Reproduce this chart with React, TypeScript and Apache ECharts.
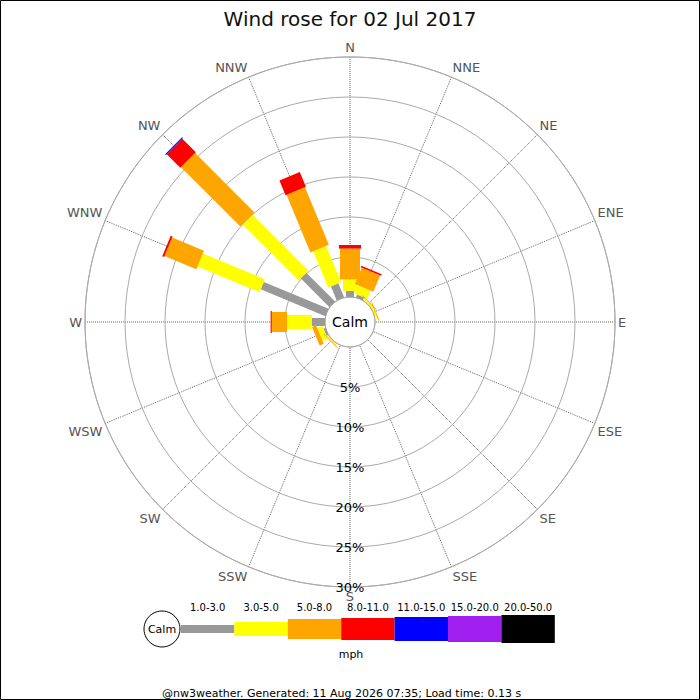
import React, { useEffect, useRef } from "react";
import * as echarts from "echarts";

const TITLE = "Wind rose for 02 Jul 2017";
const FOOTER = "@nw3weather. Generated: 11 Aug 2026 07:35; Load time: 0.13 s";
const DIRECTIONS = ["N", "NNE", "NE", "ENE", "E", "ESE", "SE", "SSE", "S", "SSW", "SW", "WSW", "W", "WNW", "NW", "NNW"];
const SPEED_BINS = ["1.0-3.0", "3.0-5.0", "5.0-8.0", "8.0-11.0", "11.0-15.0", "15.0-20.0", "20.0-50.0"];
const UNIT = "mph";
const RADIUS_MAX = 30;
const RADIUS_STEP = 5;

// percent of observations per direction (N..NNW) for each speed bin
const BIN_1_3 = [0.75, 0.4, 0.05, 0.05, 0, 0, 0, 0, 0, 0, 0.05, 0.25, 1.65, 8.75, 5.1, 1.9];
const BIN_3_5 = [1.45, 1.1, 0.2, 0.2, 0, 0, 0, 0, 0, 0, 0.15, 0.7, 3.1, 8.4, 9.9, 4.9];
const BIN_5_8 = [3.85, 2.2, 0.1, 0.1, 0, 0, 0, 0, 0, 0, 0.1, 0.55, 1.9, 4.3, 10.5, 7.8];
const BIN_8_11 = [0.45, 0.2, 0, 0, 0, 0, 0, 0, 0, 0, 0, 0, 0.15, 0.25, 2.4, 2.0];
const BIN_11_15 = [0, 0, 0, 0, 0, 0, 0, 0, 0, 0, 0, 0, 0, 0, 0.15, 0];
const BIN_15_20 = [0, 0, 0, 0, 0, 0, 0, 0, 0, 0, 0, 0, 0, 0, 0, 0];
const BIN_20_50 = [0, 0, 0, 0, 0, 0, 0, 0, 0, 0, 0, 0, 0, 0, 0, 0];
const BINS = [BIN_1_3, BIN_3_5, BIN_5_8, BIN_8_11, BIN_11_15, BIN_15_20, BIN_20_50];

// styles
const COLORS = ["#999999", "#ffff00", "#ffa500", "#ff0000", "#0000ff", "#a020f0", "#000000"];
const BAR_WIDTHS = [8, 14, 20, 22, 24, 26, 28];
const FONT = "DejaVu Sans";

export default function App() {
  const ref = useRef<HTMLDivElement>(null);
  useEffect(() => {
    document.body.style.margin = "0";
    const chart = echarts.init(ref.current!, null, { renderer: "svg" });
    const step = 360 / DIRECTIONS.length;
    const toAngle = (i: number) => (i * step + 180) % 360;

    const cum = DIRECTIONS.map(() => 0);
    const series: any[] = BINS.map((vals, b) => {
      const data = vals.map((v, i) => {
        const start = cum[i];
        cum[i] += v;
        return [cum[i], toAngle(i), start];
      });
      const w = BAR_WIDTHS[b];
      return {
        type: "custom",
        name: SPEED_BINS[b],
        coordinateSystem: "polar",
        data,
        z: 5,
        renderItem: (params: any, api: any) => {
          const end = api.value(0);
          const ang = api.value(1);
          const start = api.value(2);
          if (!(end > start)) return null;
          const p0 = api.coord([start, ang]);
          const p1 = api.coord([end, ang]);
          const cs = params.coordSys;
          let ux = p0[0] - cs.cx;
          let uy = p0[1] - cs.cy;
          const L = Math.hypot(ux, uy) || 1;
          ux /= L;
          uy /= L;
          const nx = (-uy * w) / 2;
          const ny = (ux * w) / 2;
          return {
            type: "polygon",
            shape: {
              points: [
                [p0[0] + nx, p0[1] + ny],
                [p1[0] + nx, p1[1] + ny],
                [p1[0] - nx, p1[1] - ny],
                [p0[0] - nx, p0[1] - ny],
              ],
            },
            style: { fill: COLORS[b] },
          };
        },
      };
    });

    // legend (decoration)
    const legendX0 = 181;
    const legendW = 53.4;
    const legendY = 629;
    const graphic: any[] = [
      {
        type: "rect",
        shape: { x: 0.5, y: 0.5, width: 699, height: 699 },
        style: { fill: "none", stroke: "#000", lineWidth: 1 },
        silent: true,
      },
      {
        type: "text",
        x: 350,
        y: 322,
        style: { text: "Calm", fill: "#000", font: `14px '${FONT}'`, align: "center", verticalAlign: "middle" },
        z: 10,
      },
      {
        type: "circle",
        shape: { cx: 162, cy: legendY, r: 18 },
        style: { fill: "#fff", stroke: "#000", lineWidth: 1 },
      },
      {
        type: "text",
        x: 162,
        y: legendY,
        style: { text: "Calm", fill: "#000", font: `11px '${FONT}'`, align: "center", verticalAlign: "middle" },
      },
      {
        type: "text",
        x: 351,
        y: 654,
        style: { text: UNIT, fill: "#000", font: `11px '${FONT}'`, align: "center", verticalAlign: "middle" },
      },
      {
        type: "text",
        x: 162,
        y: 693,
        style: { text: FOOTER, fill: "#000", font: `11px '${FONT}'`, align: "left", verticalAlign: "middle" },
      },
    ];
    SPEED_BINS.forEach((lab, b) => {
      const x = legendX0 + b * legendW;
      graphic.push({
        type: "rect",
        shape: { x, y: legendY - BAR_WIDTHS[b] / 2, width: legendW, height: BAR_WIDTHS[b] },
        style: { fill: COLORS[b] },
      });
      graphic.push({
        type: "text",
        x: x + legendW / 2,
        y: 607,
        style: { text: lab, fill: "#000", font: `10px '${FONT}'`, align: "center", verticalAlign: "middle" },
      });
    });

    chart.setOption({
      animation: false,
      backgroundColor: "#fff",
      textStyle: { fontFamily: FONT },
      title: {
        text: TITLE,
        left: "center",
        top: 4,
        textStyle: { fontSize: 20, fontWeight: "normal", color: "#111", fontFamily: FONT },
      },
      polar: { center: [350, 322], radius: [25, 265] },
      angleAxis: {
        type: "value",
        min: 0,
        max: 360,
        interval: step,
        startAngle: -90,
        clockwise: true,
        axisLine: { show: true, lineStyle: { color: "#aaaaaa", width: 1 } },
        axisTick: { show: false },
        axisLabel: {
          show: true,
          margin: 3,
          align: "center",
          verticalAlign: "middle",
          color: "#555",
          fontSize: 13,
          fontFamily: FONT,
          formatter: (v: number) => (v >= 360 ? "" : DIRECTIONS[(Math.round(v / step) + 8) % 16]),
        },
        splitLine: { show: true, lineStyle: { color: "#666", type: "dotted", width: 1 } },
      },
      radiusAxis: {
        type: "value",
        min: 0,
        max: RADIUS_MAX,
        interval: RADIUS_STEP,
        axisLine: { show: false },
        axisTick: { show: false },
        axisLabel: {
          show: true,
          showMinLabel: false,
          margin: 0,
          align: "center",
          verticalAlign: "middle",
          color: "#000",
          fontSize: 13,
          fontFamily: FONT,
          formatter: "{value}%",
        },
        splitLine: { show: true, lineStyle: { color: "#aaaaaa", width: 1 } },
        z: 3,
      },
      series,
      graphic,
    });
    return () => chart.dispose();
  }, []);
  return <div ref={ref} style={{ width: 700, height: 700 }} />;
}
